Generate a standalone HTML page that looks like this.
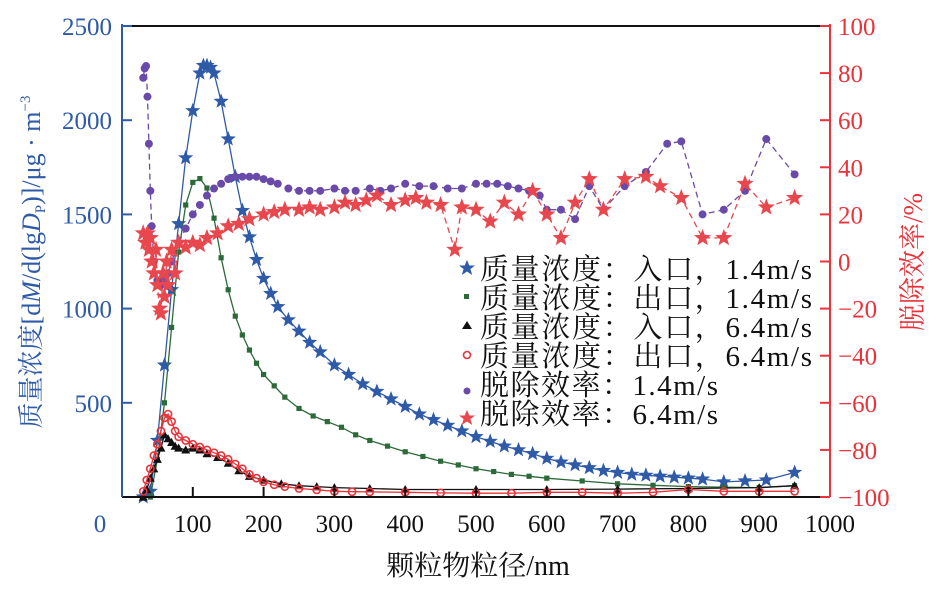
<!DOCTYPE html>
<html><head><meta charset="utf-8">
<style>
body{margin:0;background:#fff;}
svg text{font-family:"Liberation Serif","Noto Serif CJK SC",serif;}
</style></head>
<body>
<svg id="chart" width="940" height="586" viewBox="0 0 940 586" xmlns="http://www.w3.org/2000/svg">
<g id="marks"></g>
<g id="axes"></g>
</svg>
<script>
const xTicks=[0,100,200,300,400,500,600,700,800,900,1000];
const yLeftTicks=[0,500,1000,1500,2000,2500];
const yRightTicks=[-100,-80,-60,-40,-20,0,20,40,60,80,100];
const inlet14X=[30,40,50,60,70,80,90,100,110,115,120,125,130,140,150,160,170,180,190,200,210,220,235,250,265,280,300,320,340,360,380,400,420,440,460,480,500,520,540,560,580,600,620,640,660,680,700,720,740,760,780,800,820,850,880,910,950];
const inlet14Y=[0,30,300,700,1100,1450,1800,2050,2250,2290,2290,2280,2250,2100,1900,1700,1520,1380,1260,1160,1080,1010,940,880,820,770,700,650,600,560,520,480,440,410,380,350,320,295,270,250,230,205,185,170,155,140,130,120,115,110,105,100,95,80,85,90,130];
const outlet14X=[40,50,60,70,80,90,100,110,120,130,140,150,160,170,180,190,200,215,230,250,270,290,310,330,350,375,400,425,450,475,500,525,550,575,600,650,700,750,800,850,900,950];
const outlet14Y=[0,200,500,900,1300,1550,1670,1690,1640,1480,1270,1100,960,860,780,710,650,590,530,470,430,400,370,330,300,270,240,215,190,170,150,135,120,110,100,85,70,62,55,52,50,60];
const inlet64X=[30,35,40,45,50,55,60,65,70,75,80,90,100,110,120,135,150,165,180,200,225,250,275,300,350,400,500,600,700,800,900,950];
const inlet64Y=[0,40,100,150,200,260,330,310,290,270,260,250,260,250,230,210,180,140,110,90,70,60,55,50,45,40,40,40,42,45,50,60];
const outlet64X=[30,35,40,45,50,55,60,65,70,75,80,90,100,110,120,130,140,150,160,170,180,190,200,215,230,250,275,300,325,350,400,450,500,550,600,650,700,750,800,850,900,950];
const outlet64Y=[30,90,150,220,280,350,420,440,400,350,320,300,280,265,250,235,220,200,175,150,120,100,80,65,55,45,38,30,28,27,25,22,20,20,25,25,20,25,40,30,30,30];
const eff14X=[30,32,34,36,38,40,42,45,50,55,60,65,70,80,90,100,110,120,130,140,150,160,170,180,190,200,210,220,235,250,265,280,300,315,330,350,365,380,400,420,440,460,480,500,515,530,545,560,575,590,600,620,640,660,680,710,740,770,790,820,850,880,910,950];
const eff14Y=[78,82,83,70,50,30,15,0,-8,-10,-8,-5,0,8,14,20,24,28,31,33,35,36,36,36,36,35,34,33,31,30,30,30,31,30,30,31,30,31,33,32,32,31,31,33,33,33,32,31,30,28,22,22,18,32,22,32,38,50,51,20,22,30,52,37];
const eff64X=[30,33,36,38,40,42,45,48,50,53,55,58,60,63,65,70,75,80,90,100,110,120,135,150,165,180,200,215,230,250,265,280,300,315,330,345,360,380,400,415,430,450,470,480,500,520,540,560,580,600,620,640,660,680,710,740,760,790,820,850,880,910,950];
const eff64Y=[12,8,12,5,10,0,-5,5,-10,-20,-22,-5,-15,0,-10,5,-5,8,6,8,7,10,12,15,16,18,20,21,22,22,23,22,23,25,24,26,28,24,26,27,25,24,5,23,22,17,25,20,30,20,10,25,35,22,35,36,32,27,10,10,33,23,27];

const X0=122,X1=830,YT=26,YB=497;
const sx=v=>X0+(v/1000)*(X1-X0);
const syL=v=>YB-(v/2500)*(YB-YT);
const syR=v=>YB-((v+100)/200)*(YB-YT);
const NS='http://www.w3.org/2000/svg';
const marks=document.getElementById('marks');
const axes=document.getElementById('axes');
function mk(tag,attrs,parent){const e=document.createElementNS(NS,tag);for(const k in attrs)e.setAttribute(k,attrs[k]);parent.appendChild(e);return e;}
function star(cx,cy,r){let p=[];for(let i=0;i<10;i++){const a=-Math.PI/2+i*Math.PI/5;const rr=i%2?r*0.42:r;p.push((cx+rr*Math.cos(a)).toFixed(1)+','+(cy+rr*Math.sin(a)).toFixed(1));}return p.join(' ');}
function drawMarker(g,type,x,y,c,s){
  let e;
  if(type==='star')e=mk('polygon',{points:star(x,y,s),fill:c},g);
  else if(type==='square')e=mk('rect',{x:x-s,y:y-s,width:2*s,height:2*s,fill:c},g);
  else if(type==='tri')e=mk('polygon',{points:`${x},${y-s} ${x-s},${y+s*0.8} ${x+s},${y+s*0.8}`,fill:c},g);
  else if(type==='circle')e=mk('circle',{cx:x,cy:y,r:s,fill:'none',stroke:c,'stroke-width':1.6},g);
  else e=mk('circle',{cx:x,cy:y,r:s,fill:c},g);
  return e;
}
function series(name,xs,ys,sy,color,type,size,dash){
  const g=mk('g',{},marks);
  
  
  const pts=xs.map((x,i)=>sx(x).toFixed(1)+','+sy(ys[i]).toFixed(1)).join(' ');
  const l=mk('polyline',{points:pts,fill:'none',stroke:color,'stroke-width':1.3,'stroke-dasharray':dash||'none'},g);
  
  
  xs.forEach((x,i)=>{const m=drawMarker(g,type,sx(x),sy(ys[i]),color,size);
    
    });
}
series('series-inlet-1.4',inlet14X,inlet14Y,syL,'#2e5aa8','star',8);
series('series-outlet-1.4',outlet14X,outlet14Y,syL,'#2d6a3a','square',2.6);
series('series-inlet-6.4',inlet64X,inlet64Y,syL,'#111','tri',4.5);
series('series-outlet-6.4',outlet64X,outlet64Y,syL,'#e8333a','circle',3.6);
series('series-efficiency-1.4',eff14X,eff14Y,syR,'#6a4aa8','dot',4,'6,4');
series('series-efficiency-6.4',eff64X,eff64Y,syR,'#e8474e','star',9,'6,4');

mk('line',{x1:X0,y1:YT,x2:X1,y2:YT,stroke:'#111','stroke-width':2},axes);
mk('line',{x1:X0,y1:YB,x2:X1,y2:YB,stroke:'#111','stroke-width':2},axes);
const la=mk('line',{x1:X0,y1:YT-2,x2:X0,y2:YB,stroke:'#2e5aa8','stroke-width':2},axes);

const ra=mk('line',{x1:X1,y1:YT-2,x2:X1,y2:YB,stroke:'#e8333a','stroke-width':2},axes);

xTicks.forEach(v=>{
  if(v>0&&v<1000) mk('line',{x1:sx(v),y1:YB,x2:sx(v),y2:YB-10,stroke:'#111','stroke-width':2},axes);
  const t=mk('text',{x:v===0?100:sx(v),y:532,'text-anchor':'middle','font-size':25,fill:v===0?'#2e5aa8':'#111'},axes);
  t.textContent=v;
  
});
yLeftTicks.forEach(v=>{
  if(v>0) mk('line',{x1:X0,y1:syL(v),x2:X0+10,y2:syL(v),stroke:'#2e5aa8','stroke-width':2},axes);
  if(v===0)return;
  const t=mk('text',{x:112,y:syL(v)+9,'text-anchor':'end','font-size':25,fill:'#2e5aa8'},axes);
  t.textContent=v;
  
});
yRightTicks.forEach(v=>{
  mk('line',{x1:X1,y1:syR(v),x2:X1-10,y2:syR(v),stroke:'#e8333a','stroke-width':2},axes);
  const t=mk('text',{x:838,y:syR(v)+9,'text-anchor':'start','font-size':25,fill:'#e8333a'},axes);
  t.textContent=v<0?'\u2212'+(-v):v;
  
});
</script>
<svg style="position:absolute;left:0;top:0" width="940" height="586" xmlns="http://www.w3.org/2000/svg">
<text x="478" y="575" text-anchor="middle" font-size="28" fill="#111">颗粒物粒径/nm</text>
<text transform="translate(40,262) rotate(-90)" text-anchor="middle" font-size="26" fill="#2e5aa8">质量浓度[d<tspan font-style="italic">M</tspan>/d(lg<tspan font-style="italic">D</tspan><tspan font-size="15" dy="5">P</tspan><tspan dy="-5">)]/μg · m</tspan><tspan font-size="15" dy="-10">−3</tspan></text>
<text transform="translate(922,262) rotate(-90)" text-anchor="middle" font-size="27" fill="#e8333a">脱除效率/%</text>
<g font-size="29" fill="#111">
<polygon points="467,260 469.3,265.5 475,265.5 470.4,269 472.2,275 467,271.5 461.8,275 463.6,269 459,265.5 464.7,265.5" fill="#2e5aa8"/>
<text x="480" y="279" textLength="332" lengthAdjust="spacing">质量浓度：入口，1.4m/s</text>
<rect x="464" y="294" width="5" height="5" fill="#2d6a3a"/>
<text x="480" y="308" textLength="332" lengthAdjust="spacing">质量浓度：出口，1.4m/s</text>
<polygon points="467,321 462,329 472,329" fill="#111"/>
<text x="480" y="337" textLength="332" lengthAdjust="spacing">质量浓度：入口，6.4m/s</text>
<circle cx="467" cy="355" r="3.5" fill="none" stroke="#e8333a" stroke-width="1.6"/>
<text x="480" y="366" textLength="332" lengthAdjust="spacing">质量浓度：出口，6.4m/s</text>
<circle cx="467" cy="391" r="3.5" fill="#6a4aa8"/>
<text x="480" y="395" textLength="238" lengthAdjust="spacing">脱除效率：1.4m/s</text>
<polygon points="467,410 469.3,415.5 475,415.5 470.4,419 472.2,425 467,421.5 461.8,425 463.6,419 459,415.5 464.7,415.5" fill="#e8474e"/>
<text x="480" y="424" textLength="238" lengthAdjust="spacing">脱除效率：6.4m/s</text>
</g>
</svg>
</body></html>
